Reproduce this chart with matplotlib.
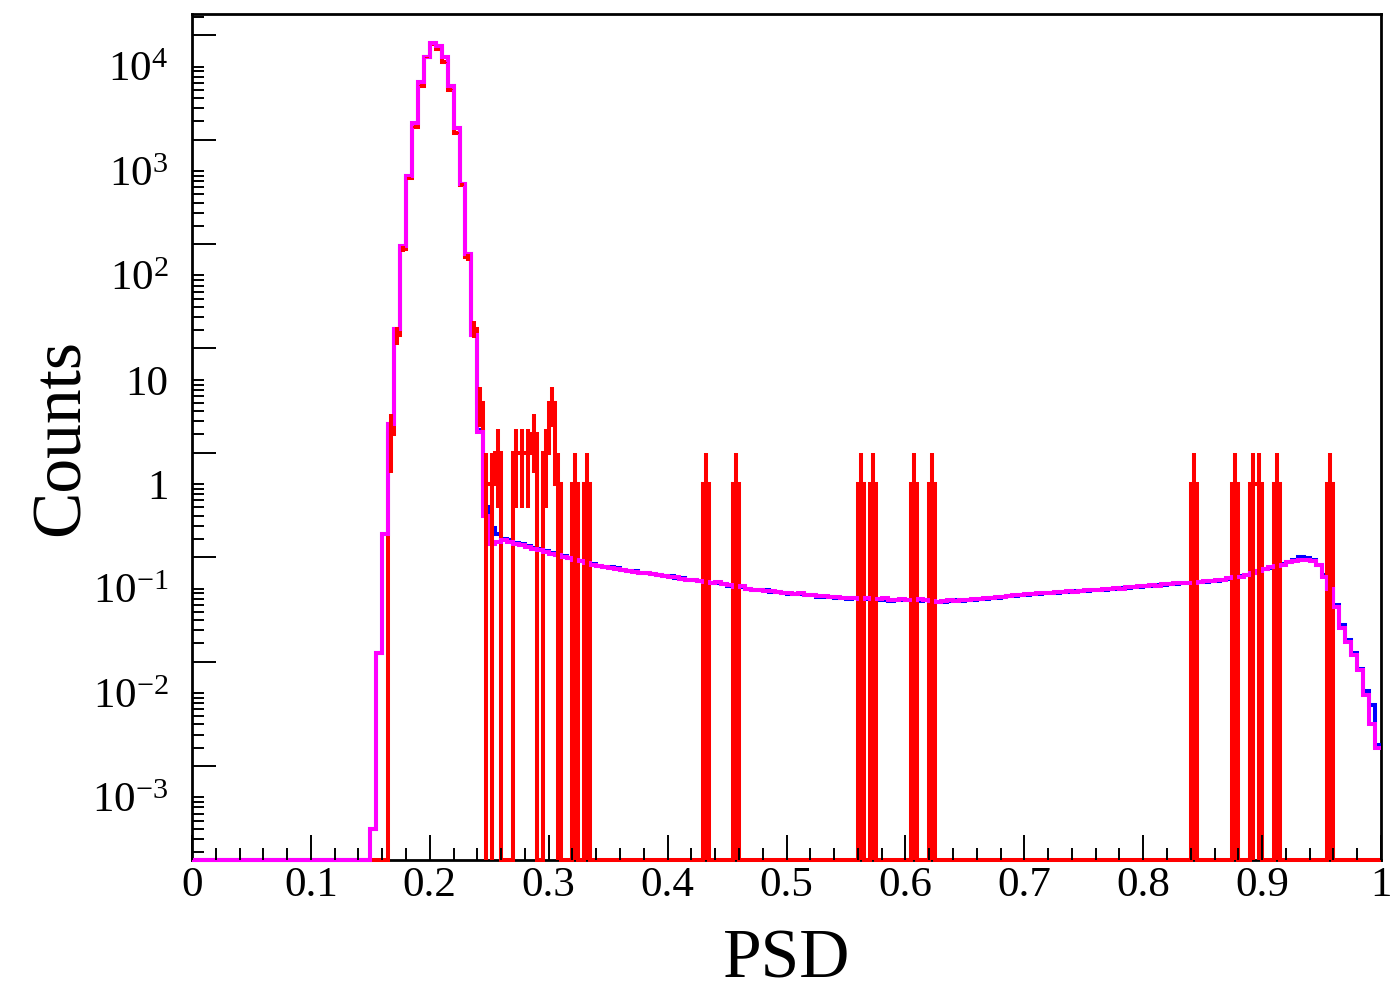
import numpy as np
import matplotlib.pyplot as plt
from matplotlib.ticker import LogLocator, MultipleLocator, FuncFormatter, NullFormatter

plt.rcParams['font.family'] = ['Liberation Serif', 'DejaVu Serif']
plt.rcParams['mathtext.fontset'] = 'custom'
plt.rcParams['mathtext.rm'] = 'Liberation Serif'
plt.rcParams['mathtext.it'] = 'Liberation Serif:italic'
plt.rcParams['mathtext.bf'] = 'Liberation Serif:bold'

# 200 bins of width 0.005 on [0, 1]
n_bins = 200
bin_w = 0.005
first_bin = 30  # both simulated curves are zero below PSD = 0.15

# blue histogram, bins 30..49 (peak) and 50..199 (tail)
blue_peak = [5e-4, 0.024, 0.33, 3.8, 31, 193, 900, 2880, 7090, 12450,
             16700, 15900, 12300, 6600, 2580, 752, 162, 27, 3.3, 0.6]
blue_tail = [0.38, 0.33, 0.3, 0.29, 0.275, 0.265, 0.255, 0.245, 0.238, 0.228,
             0.22, 0.212, 0.205, 0.198, 0.19, 0.185, 0.178, 0.172, 0.165, 0.162,
             0.16, 0.156, 0.152, 0.149, 0.146, 0.142, 0.14, 0.138, 0.136, 0.133,
             0.131, 0.127, 0.125, 0.121, 0.12, 0.117, 0.114, 0.113, 0.112, 0.11,
             0.107, 0.105, 0.103, 0.1, 0.097, 0.096, 0.096, 0.093, 0.092, 0.09,
             0.089, 0.089, 0.088, 0.087, 0.086, 0.084, 0.083, 0.083, 0.082, 0.081,
             0.08, 0.081, 0.08, 0.079, 0.08, 0.078, 0.077, 0.076, 0.077, 0.077,
             0.077, 0.076, 0.076, 0.077, 0.074, 0.074, 0.075, 0.076, 0.077, 0.076,
             0.077, 0.078, 0.08, 0.08, 0.081, 0.082, 0.083, 0.085, 0.085, 0.086,
             0.087, 0.089, 0.089, 0.09, 0.091, 0.091, 0.092, 0.093, 0.094, 0.094,
             0.095, 0.096, 0.097, 0.098, 0.099, 0.1, 0.101, 0.102, 0.103, 0.104,
             0.105, 0.107, 0.108, 0.109, 0.11, 0.111, 0.112, 0.112, 0.114, 0.115,
             0.116, 0.118, 0.119, 0.121, 0.124, 0.127, 0.131, 0.134, 0.14, 0.146,
             0.153, 0.159, 0.166, 0.172, 0.18, 0.19, 0.2, 0.198, 0.19, 0.17,
             0.135, 0.1, 0.07, 0.045, 0.032, 0.024, 0.017, 0.0105, 0.0077, 0.0032]

# magenta histogram, same binning
magenta_peak = [5e-4, 0.024, 0.33, 3.8, 31, 193, 900, 2880, 7090, 12450,
                16700, 15900, 12300, 6600, 2580, 752, 162, 27, 3.2, 0.5]
magenta_tail = [0.27, 0.28, 0.29, 0.28, 0.27, 0.26, 0.25, 0.24, 0.235, 0.225,
                0.215, 0.21, 0.2, 0.195, 0.19, 0.185, 0.175, 0.17, 0.165, 0.16,
                0.158, 0.155, 0.15, 0.148, 0.145, 0.14, 0.142, 0.137, 0.135, 0.132,
                0.13, 0.128, 0.124, 0.122, 0.12, 0.118, 0.115, 0.112, 0.115, 0.11,
                0.108, 0.104, 0.106, 0.1, 0.098, 0.097, 0.095, 0.094, 0.093, 0.091,
                0.09, 0.089, 0.09, 0.087, 0.086, 0.085, 0.085, 0.083, 0.084, 0.082,
                0.081, 0.082, 0.08, 0.081, 0.079, 0.08, 0.082, 0.078, 0.077, 0.079,
                0.078, 0.077, 0.079, 0.077, 0.076, 0.075, 0.076, 0.077, 0.076, 0.077,
                0.078, 0.079, 0.08, 0.081, 0.082, 0.083, 0.084, 0.085, 0.086, 0.087,
                0.088, 0.089, 0.09, 0.091, 0.09, 0.092, 0.093, 0.094, 0.093, 0.095,
                0.096, 0.097, 0.096, 0.099, 0.1, 0.101, 0.1, 0.103, 0.104, 0.105,
                0.106, 0.108, 0.107, 0.11, 0.111, 0.112, 0.113, 0.114, 0.113, 0.116,
                0.117, 0.118, 0.12, 0.122, 0.125, 0.128, 0.13, 0.135, 0.14, 0.148,
                0.155, 0.16, 0.165, 0.17, 0.178, 0.185, 0.19, 0.19, 0.185, 0.167,
                0.13, 0.1, 0.067, 0.042, 0.031, 0.023, 0.0167, 0.0096, 0.005, 0.003]

# red data: low edge of each non-empty bin and its counts
data_psd = [0.165, 0.170, 0.175, 0.180, 0.185, 0.190, 0.195, 0.200, 0.205, 0.210,
            0.215, 0.220, 0.225, 0.230, 0.235, 0.240, 0.245, 0.250, 0.255, 0.270,
            0.275, 0.280, 0.285, 0.295, 0.300, 0.305, 0.320, 0.330, 0.430, 0.455,
            0.560, 0.570, 0.605, 0.620, 0.840, 0.875, 0.890, 0.895, 0.910, 0.955]
data_counts = [3, 27, 180, 850, 2650, 6600, 12300, 16500, 14800, 11000,
               6000, 2300, 740, 150, 31, 6, 1, 1, 2, 2,
               2, 2, 3, 2, 6, 1, 1, 1, 1, 1,
               1, 1, 1, 1, 1, 1, 1, 1, 1, 1]

ymin, ymax = 10 ** -3.6, 10 ** 4.505

edges = np.linspace(0, 1, n_bins + 1)
centers = 0.5 * (edges[:-1] + edges[1:])

blue = np.zeros(n_bins)
blue[first_bin:] = blue_peak + blue_tail
magenta = np.zeros(n_bins)
magenta[first_bin:] = magenta_peak + magenta_tail
data = np.zeros(n_bins)
data[np.round(np.array(data_psd) / bin_w).astype(int)] = data_counts

fig = plt.figure(figsize=(13.93, 9.94), dpi=100)
ax = fig.add_axes([192 / 1393, 1 - 860 / 994, 1189 / 1393, 846 / 994])

lw = 2.9
# empty bins sit on the lower frame edge, as in ROOT
ax.stairs(np.maximum(blue, ymin), edges, baseline=None, color='blue', lw=lw, clip_on=False)
ax.stairs(np.maximum(data, ymin), edges, baseline=None, color='red', lw=lw, clip_on=False)
filled = data > 0
err = np.sqrt(data[filled])
ax.vlines(centers[filled], np.maximum(data[filled] - err, ymin), data[filled] + err,
          color='red', lw=lw, clip_on=False)
ax.stairs(np.maximum(magenta, ymin), edges, baseline=None, color='magenta', lw=lw, clip_on=False)

ax.set_yscale('log')
ax.set_xlim(0, 1)
ax.set_ylim(ymin, ymax)

# x axis: primary every 0.1, secondary every 0.02
ax.xaxis.set_major_locator(MultipleLocator(0.1))
ax.xaxis.set_minor_locator(MultipleLocator(0.02))
ax.xaxis.set_major_formatter(FuncFormatter(lambda v, p: '%g' % round(v, 2)))

# y axis: long ticks at 2x10^n, short ones elsewhere, labels on decades
def decade_label(v, p):
    n = int(round(np.log10(v)))
    if abs(v - 10.0 ** n) > 1e-6 * v:
        return ''
    if n == 0:
        return '1'
    if n == 1:
        return '10'
    return '$10^{%d}$' % n

ax.yaxis.set_major_locator(LogLocator(base=10, subs=(2.0,), numticks=100))
ax.yaxis.set_major_formatter(NullFormatter())
ax.yaxis.set_minor_locator(LogLocator(base=10, subs=(1.0, 3.0, 4.0, 5.0, 6.0, 7.0, 8.0, 9.0), numticks=100))
ax.yaxis.set_minor_formatter(FuncFormatter(decade_label))

ax.tick_params(axis='x', which='major', direction='in', length=18, width=1.4,
               labelsize=31, pad=5, top=False)
ax.tick_params(axis='x', which='minor', direction='in', length=8.6, width=1.4, top=False)
ax.tick_params(axis='y', which='major', direction='in', length=17, width=1.4, right=False)
ax.tick_params(axis='y', which='minor', direction='in', length=8.6, width=1.4,
               labelsize=31, pad=17, right=False)

for s in ax.spines.values():
    s.set_linewidth(2.0)
    s.set_zorder(0)

fig.text(786.5 / 1393, 1 - 978 / 994, 'PSD', fontsize=50, ha='center', va='baseline')
fig.text(62 / 1393, 1 - 437 / 994, 'Counts', fontsize=50, ha='center', va='center', rotation=90)

fig.savefig('out.png', dpi=100)
